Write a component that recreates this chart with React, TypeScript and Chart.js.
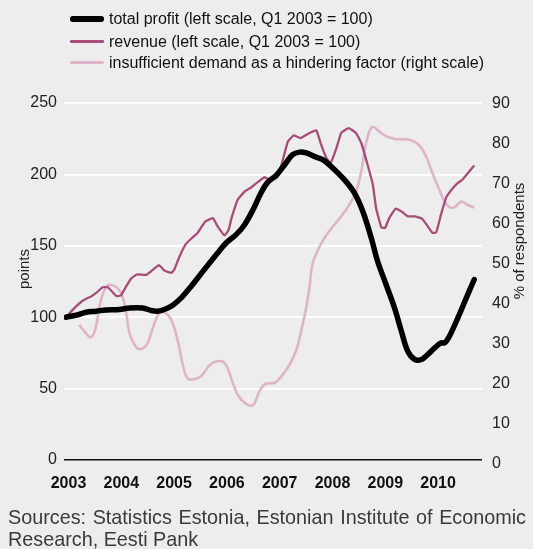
import React, { useEffect, useRef } from "react";
import { Chart, registerables } from "chart.js";

Chart.register(...registerables);

const FONT = '"Liberation Sans", Arial, Helvetica, sans-serif';

// x-axis categories (years) and tick values
const years = [2003, 2004, 2005, 2006, 2007, 2008, 2009, 2010];
const leftTicks = [0, 50, 100, 150, 200, 250];
const rightTicks = [0, 10, 20, 30, 40, 50, 60, 70, 80, 90];

// total profit (left scale, Q1 2003 = 100)
const profitT = [2003.04, 2003.23, 2003.42, 2003.61, 2003.8, 2004.05, 2004.24, 2004.49, 2004.65, 2004.78, 2004.9, 2005.06, 2005.22, 2005.41, 2005.66, 2005.91, 2006.07, 2006.26, 2006.42, 2006.58, 2006.73, 2006.86, 2007.02, 2007.18, 2007.33, 2007.46, 2007.59, 2007.74, 2007.9, 2008.06, 2008.31, 2008.5, 2008.66, 2008.82, 2008.94, 2009.1, 2009.26, 2009.39, 2009.51, 2009.64, 2009.77, 2009.89, 2010.02, 2010.14, 2010.21, 2010.3, 2010.46, 2010.62, 2010.77];
const profitV = [100, 101.4, 103.5, 104.2, 105.1, 105.4, 106.5, 106.5, 104.7, 104.2, 105.4, 108.4, 113.5, 121.7, 133.5, 145, 152, 157.8, 164.8, 175.3, 187, 194.6, 199.3, 206.8, 213.8, 215.6, 215, 212.6, 210.3, 205.6, 196.3, 187, 174, 155.5, 139.2, 122.9, 106.5, 90.2, 76.2, 70.4, 70.4, 73.9, 78.5, 82, 82, 86.7, 99.5, 113.5, 126.4];

// revenue (left scale, Q1 2003 = 100)
const revenueT = [2003.04, 2003.2, 2003.36, 2003.52, 2003.61, 2003.73, 2003.83, 2003.92, 2004.0, 2004.08, 2004.18, 2004.27, 2004.38, 2004.56, 2004.65, 2004.8, 2004.9, 2005.03, 2005.09, 2005.19, 2005.31, 2005.44, 2005.53, 2005.67, 2005.82, 2005.91, 2006.04, 2006.12, 2006.17, 2006.29, 2006.42, 2006.55, 2006.67, 2006.8, 2006.92, 2007.04, 2007.12, 2007.24, 2007.35, 2007.48, 2007.65, 2007.78, 2007.87, 2007.97, 2008.05, 2008.16, 2008.25, 2008.39, 2008.53, 2008.63, 2008.75, 2008.85, 2008.91, 2009.01, 2009.08, 2009.16, 2009.28, 2009.39, 2009.51, 2009.64, 2009.78, 2009.89, 2009.98, 2010.05, 2010.14, 2010.24, 2010.34, 2010.46, 2010.55, 2010.77];
const revenueV = [100, 106.5, 111.7, 114.7, 117, 121, 121, 117.5, 114.7, 115.4, 121.7, 127, 129.9, 129.6, 132.2, 136.4, 132.7, 131, 133.4, 142.7, 151.3, 156, 159, 166.8, 169.4, 163.6, 157.3, 161.3, 169, 182.3, 188, 191, 194.6, 198, 195.8, 198, 206.8, 223, 227.3, 225.4, 229, 230.8, 220.8, 211.4, 208, 218.4, 229, 232.4, 229, 222, 206.8, 192.8, 176.5, 163, 162.5, 169.4, 176, 174.1, 170.6, 170.6, 169, 163.6, 159, 159.4, 171.8, 183.9, 189.3, 194, 196.4, 206.3];

// insufficient demand as a hindering factor (right scale, % of respondents)
const demandT = [2003.29, 2003.39, 2003.5, 2003.58, 2003.64, 2003.7, 2003.8, 2003.89, 2004.02, 2004.11, 2004.18, 2004.24, 2004.34, 2004.43, 2004.57, 2004.65, 2004.75, 2004.84, 2004.97, 2005.06, 2005.16, 2005.25, 2005.34, 2005.47, 2005.6, 2005.76, 2005.88, 2006.01, 2006.1, 2006.2, 2006.29, 2006.42, 2006.55, 2006.61, 2006.7, 2006.81, 2006.99, 2007.11, 2007.27, 2007.4, 2007.49, 2007.59, 2007.65, 2007.71, 2007.84, 2007.97, 2008.09, 2008.22, 2008.38, 2008.53, 2008.63, 2008.72, 2008.84, 2009.01, 2009.13, 2009.29, 2009.48, 2009.64, 2009.75, 2009.86, 2009.98, 2010.11, 2010.21, 2010.3, 2010.4, 2010.52, 2010.65, 2010.77];
const demandV = [34.75, 33.1, 31.7, 33.1, 36.8, 41, 44.3, 44.75, 43.9, 41.8, 37.7, 32.7, 29.75, 28.7, 29.9, 32.7, 36.4, 38.1, 37.25, 35.2, 30.6, 24.75, 21.4, 21.2, 22, 24.75, 25.6, 25.6, 23.9, 20.2, 17.25, 15.3, 14.5, 15.2, 18.1, 20, 20.3, 21.8, 24.75, 28.5, 33.1, 39.3, 44.3, 50.2, 54.3, 57.25, 59.3, 61.4, 64.3, 68, 73.1, 80.2, 84.3, 82.7, 81.8, 81.2, 81.2, 80.6, 79.3, 76.8, 72.7, 68.5, 65.6, 64.2, 64.2, 65.6, 64.75, 64.1];

const legendItems = [
  { label: "total profit (left scale, Q1 2003 = 100)", color: "#000000", width: 5.5 },
  { label: "revenue (left scale, Q1 2003 = 100)", color: "#a64d79", width: 2.5 },
  { label: "insufficient demand as a hindering factor (right scale)", color: "#dfb4c9", width: 3 },
];

const toPoints = (t: number[], v: number[]) => t.map((x, i) => ({ x, y: v[i] }));

const axisTitles = {
  id: "axisTitles",
  afterDraw(chart: any) {
    const ctx = chart.ctx;
    ctx.save();
    ctx.fillStyle = "#222";
    ctx.font = `15px ${FONT}`;
    ctx.textAlign = "center";
    ctx.textBaseline = "middle";
    ctx.translate(25, 269);
    ctx.rotate(-Math.PI / 2);
    ctx.fillText("points", 0, 0);
    ctx.restore();
    ctx.save();
    ctx.fillStyle = "#222";
    ctx.font = `15px ${FONT}`;
    ctx.textAlign = "center";
    ctx.textBaseline = "middle";
    ctx.translate(520, 241);
    ctx.rotate(-Math.PI / 2);
    ctx.fillText("% of respondents", 0, 0);
    ctx.restore();
  },
};

export default function App() {
  const ref = useRef<HTMLCanvasElement | null>(null);

  useEffect(() => {
    if (!ref.current) return;
    const chart = new Chart(ref.current, {
      type: "line",
      data: {
        datasets: [
          {
            label: "total profit",
            data: toPoints(profitT, profitV),
            borderColor: "#000000",
            borderWidth: 5.5,
            pointRadius: 0,
            tension: 0.35,
            borderCapStyle: "round",
            borderJoinStyle: "round",
            yAxisID: "y",
          },
          {
            label: "revenue",
            data: toPoints(revenueT, revenueV),
            borderColor: "#a64d79",
            borderWidth: 2.3,
            pointRadius: 0,
            tension: 0.1,
            borderJoinStyle: "round",
            yAxisID: "y",
          },
          {
            label: "insufficient demand",
            data: toPoints(demandT, demandV),
            borderColor: "#dfb4c9",
            borderWidth: 2.6,
            pointRadius: 0,
            tension: 0.35,
            borderJoinStyle: "round",
            yAxisID: "y1",
          },
        ],
      } as any,
      options: {
        responsive: false,
        animation: false,
        devicePixelRatio: 1,
        layout: { padding: { top: 103, left: 0, right: 0, bottom: 0 } },
        plugins: { legend: { display: false }, tooltip: { enabled: false } },
        scales: {
          x: {
            type: "linear",
            min: 2003,
            max: 2010.917,
            grid: { display: false, drawTicks: false },
            border: { display: false },
            afterBuildTicks: (s: any) => {
              s.ticks = years.map((y) => ({ value: y + 0.085 }));
            },
            afterFit: (s: any) => {
              s.height = 89;
            },
            ticks: {
              autoSkip: false,
              maxRotation: 0,
              padding: 14,
              color: "#111",
              font: { family: FONT, size: 16, weight: "bold" },
              callback: (v: any) => String(Math.floor(Number(v))),
            },
          },
          y: {
            position: "left",
            min: 0,
            max: 250,
            afterBuildTicks: (s: any) => {
              s.ticks = leftTicks.map((v) => ({ value: v }));
            },
            afterFit: (s: any) => {
              s.width = 64;
            },
            grid: {
              drawTicks: false,
              color: (c: any) => (c.tick && c.tick.value === 0 ? "#111111" : "#ffffff"),
              lineWidth: (c: any) => (c.tick && c.tick.value === 0 ? 1.5 : 1.7),
            },
            border: { display: false },
            ticks: {
              autoSkip: false,
              padding: 7,
              color: "#222",
              font: { family: FONT, size: 16 },
            },
          },
          y1: {
            position: "right",
            min: 1,
            max: 90.25,
            afterBuildTicks: (s: any) => {
              s.ticks = rightTicks.map((v) => ({ value: v }));
            },
            afterFit: (s: any) => {
              s.width = 51;
            },
            grid: { display: false, drawTicks: false },
            border: { display: false },
            ticks: {
              autoSkip: false,
              padding: 10,
              color: "#222",
              font: { family: FONT, size: 16 },
            },
          },
        },
      } as any,
      plugins: [axisTitles],
    });
    return () => chart.destroy();
  }, []);

  return (
    <div
      style={{
        position: "fixed",
        left: 0,
        top: 0,
        width: 533,
        height: 549,
        background: "#ecedec",
        overflow: "hidden",
        fontFamily: FONT,
      }}
    >
      <canvas
        ref={ref}
        width={533}
        height={549}
        style={{ position: "absolute", left: 0, top: 0, width: 533, height: 549 }}
      />
      {legendItems.map((it, i) => (
        <div key={it.label}>
          <div
            style={{
              position: "absolute",
              left: 70,
              top: [19, 41.5, 62.5][i] - it.width / 2,
              width: 34,
              height: it.width,
              background: it.color,
              borderRadius: it.width / 2,
            }}
          />
          <div
            style={{
              position: "absolute",
              left: 109,
              top: [19, 41.5, 62.5][i] - 10,
              height: 20,
              lineHeight: "20px",
              fontSize: 16,
              color: "#111",
              whiteSpace: "nowrap",
            }}
          >
            {it.label}
          </div>
        </div>
      ))}
      <div
        style={{
          position: "absolute",
          left: 8,
          top: 506,
          width: 518,
          fontSize: 19.8,
          lineHeight: "22px",
          color: "#3a3a3a",
          textAlign: "justify",
          textAlignLast: "left",
        }}
      >
        Sources: Statistics Estonia, Estonian Institute of Economic Research, Eesti Pank
      </div>
    </div>
  );
}
